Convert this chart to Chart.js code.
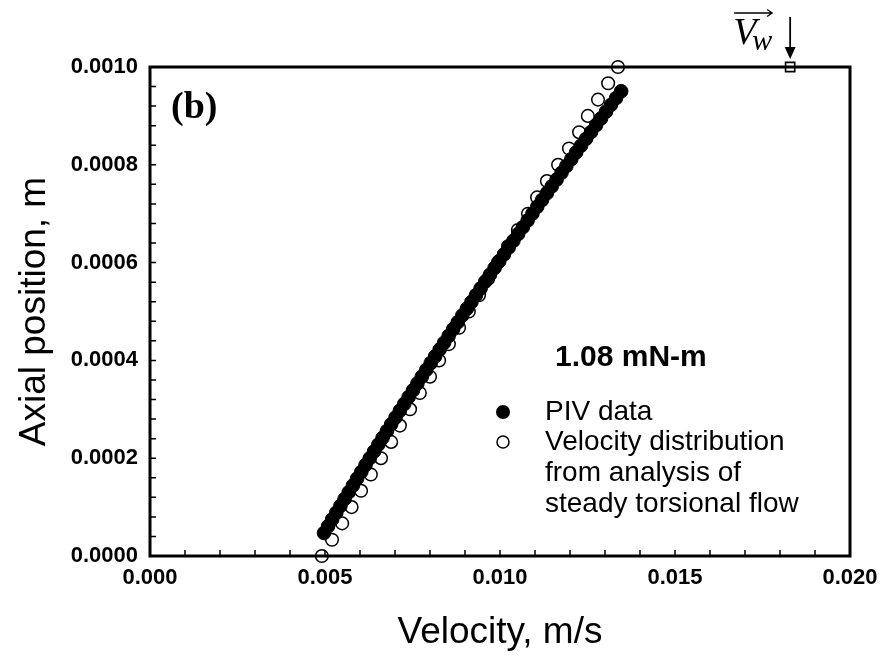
<!DOCTYPE html>
<html>
<head>
<meta charset="utf-8">
<script src="https://cdn.jsdelivr.net/npm/chart.js@4.4.1/dist/chart.umd.min.js"></script>
<style>
  html, body { margin: 0; padding: 0; background: #fff; }
  #wrap { width: 883px; height: 659px; }
</style>
</head>
<body>
<div id="wrap"><canvas id="c" width="883" height="659"></canvas></div>
<script>
// ---- Data ----
const pivPosition = [
  0.0000470, 0.0000609, 0.0000748, 0.0000887, 0.0001026, 0.0001165, 0.0001304, 0.0001443,
  0.0001582, 0.0001721, 0.0001860, 0.0001999, 0.0002138, 0.0002277, 0.0002416, 0.0002555,
  0.0002694, 0.0002833, 0.0002972, 0.0003111, 0.0003250, 0.0003389, 0.0003528, 0.0003667,
  0.0003806, 0.0003945, 0.0004084, 0.0004223, 0.0004362, 0.0004501, 0.0004640, 0.0004779,
  0.0004918, 0.0005057, 0.0005196, 0.0005335, 0.0005474, 0.0005613, 0.0005752, 0.0005891,
  0.0006030, 0.0006169, 0.0006308, 0.0006447, 0.0006586, 0.0006725, 0.0006864, 0.0007003,
  0.0007142, 0.0007281, 0.0007420, 0.0007559, 0.0007698, 0.0007837, 0.0007976, 0.0008115,
  0.0008254, 0.0008393, 0.0008532, 0.0008671, 0.0008810, 0.0008949, 0.0009088, 0.0009227,
  0.0009366, 0.0009505
];
const pivVelocity = [
  0.004971, 0.005088, 0.005205, 0.005323, 0.005441, 0.005559, 0.005678, 0.005798,
  0.005917, 0.006038, 0.006158, 0.006279, 0.006401, 0.006523, 0.006645, 0.006768,
  0.006891, 0.007015, 0.007139, 0.007264, 0.007389, 0.007514, 0.007640, 0.007766,
  0.007893, 0.008020, 0.008148, 0.008276, 0.008404, 0.008533, 0.008662, 0.008792,
  0.008922, 0.009053, 0.009184, 0.009315, 0.009447, 0.009580, 0.009713, 0.009846,
  0.009979, 0.010114, 0.010248, 0.010383, 0.010518, 0.010654, 0.010791, 0.010927,
  0.011064, 0.011202, 0.011340, 0.011478, 0.011617, 0.011757, 0.011896, 0.012036,
  0.012177, 0.012318, 0.012460, 0.012602, 0.012744, 0.012887, 0.013030, 0.013173,
  0.013318, 0.013462
];
const modelPosition = [
  0.0000000, 0.0000333, 0.0000667, 0.0001000, 0.0001333, 0.0001667, 0.0002000, 0.0002333,
  0.0002667, 0.0003000, 0.0003333, 0.0003667, 0.0004000, 0.0004333, 0.0004667, 0.0005000,
  0.0005333, 0.0005667, 0.0006000, 0.0006333, 0.0006667, 0.0007000, 0.0007333, 0.0007667,
  0.0008000, 0.0008333, 0.0008667, 0.0009000, 0.0009333, 0.0009667, 0.0010000
];
const modelVelocity = [
  0.00491, 0.00520, 0.00549, 0.00576, 0.00603, 0.00631, 0.00660, 0.00689,
  0.00714, 0.00743, 0.00771, 0.00800, 0.00826, 0.00854, 0.00883, 0.00911,
  0.00940, 0.00966, 0.00994, 0.01023, 0.01051, 0.01080, 0.01106, 0.01134,
  0.01166, 0.01197, 0.01226, 0.01251, 0.01280, 0.01309, 0.01337
];
const wallVelocity = [0.01829];
const wallPosition = [0.0010];

const seriesLabels = [
  ["PIV data"],
  ["Velocity distribution", "from analysis of", "steady torsional flow"]
];
const panelLabel = "(b)";
const torqueLabel = "1.08 mN-m";
const xTitle = "Velocity, m/s";
const yTitle = "Axial position, m";

const xMin = 0, xMax = 0.020, xMajor = 0.005, xMinor = 0.001;
const yMin = 0, yMax = 0.0010, yMajor = 0.0002, yMinor = 0.00004;

const SANS = "'Liberation Sans', Arial, sans-serif";

function pts(xs, ys) { return xs.map((v, i) => ({ x: v, y: ys[i] })); }

const decor = {
  id: 'decor',
  afterDatasetsDraw(chart) {
    const { ctx, chartArea: a, scales: { x, y } } = chart;
    ctx.save();
    ctx.strokeStyle = '#000';
    ctx.fillStyle = '#000';

    // inward ticks (left and bottom)
    ctx.lineWidth = 1.5;
    ctx.beginPath();
    const nY = Math.round((yMax - yMin) / yMinor);
    for (let i = 0; i <= nY; i++) {
      const py = y.getPixelForValue(yMin + i * yMinor);
      ctx.moveTo(a.left, py); ctx.lineTo(a.left + 6, py);
    }
    const nX = Math.round((xMax - xMin) / xMinor);
    for (let i = 0; i <= nX; i++) {
      const px = x.getPixelForValue(xMin + i * xMinor);
      ctx.moveTo(px, a.bottom); ctx.lineTo(px, a.bottom - 6);
    }
    ctx.stroke();

    // box
    ctx.lineWidth = 3;
    ctx.strokeRect(a.left, a.top, a.right - a.left, a.bottom - a.top);

    // wall velocity arrow
    const wx = x.getPixelForValue(wallVelocity[0]);
    const wy = y.getPixelForValue(wallPosition[0]);
    ctx.lineWidth = 1.8;
    ctx.beginPath();
    ctx.moveTo(wx, wy - 50); ctx.lineTo(wx, wy - 19);
    ctx.stroke();
    ctx.beginPath();
    ctx.moveTo(wx - 5.5, wy - 20); ctx.lineTo(wx + 5.5, wy - 20); ctx.lineTo(wx, wy - 8);
    ctx.closePath(); ctx.fill();

    // V_w with vector arrow
    ctx.textBaseline = 'alphabetic';
    ctx.textAlign = 'left';
    ctx.font = "italic 38px 'Liberation Serif', 'DejaVu Serif', serif";
    ctx.fillText('V', wx - 57, wy - 23);
    ctx.font = "italic 30px 'Liberation Serif', 'DejaVu Serif', serif";
    ctx.fillText('w', wx - 38, wy - 17);
    ctx.lineWidth = 1.3;
    ctx.beginPath();
    ctx.moveTo(wx - 56, wy - 54); ctx.lineTo(wx - 18, wy - 54);
    ctx.moveTo(wx - 23, wy - 57.5); ctx.lineTo(wx - 18, wy - 54); ctx.lineTo(wx - 23, wy - 50.5);
    ctx.stroke();

    // panel label
    ctx.font = "bold 38px 'Liberation Serif', 'DejaVu Serif', serif";
    ctx.textBaseline = 'middle';
    ctx.fillText(panelLabel, a.left + 21, a.top + 41);

    // torque label
    ctx.font = "bold 30px " + SANS;
    ctx.fillText(torqueLabel, 555, 358);

    // legend
    const ds = chart.data.datasets;
    const legX = 503, textX = 545;
    const rows = [412, 442];
    ctx.font = "28px " + SANS;
    ctx.beginPath();
    ctx.arc(legX, rows[0], 7, 0, Math.PI * 2);
    ctx.fillStyle = ds[0].backgroundColor; ctx.fill();
    ctx.fillStyle = '#000';
    ctx.fillText(seriesLabels[0][0], textX, rows[0]);
    ctx.beginPath();
    ctx.arc(legX, rows[1], 6, 0, Math.PI * 2);
    ctx.fillStyle = '#fff'; ctx.fill();
    ctx.lineWidth = 1.5; ctx.strokeStyle = ds[1].borderColor; ctx.stroke();
    ctx.fillStyle = '#000';
    seriesLabels[1].forEach((t, i) => ctx.fillText(t, textX, rows[1] + i * 31));

    ctx.restore();
  }
};

new Chart(document.getElementById('c'), {
  type: 'scatter',
  data: {
    datasets: [
      {
        label: seriesLabels[0].join(' '),
        data: pts(pivVelocity, pivPosition),
        backgroundColor: '#000', borderColor: '#000',
        pointRadius: 6.8, borderWidth: 1, order: 0, clip: false
      },
      {
        label: seriesLabels[1].join(' '),
        data: pts(modelVelocity, modelPosition),
        backgroundColor: '#fff', borderColor: '#000',
        pointRadius: 6.3, borderWidth: 1.5, order: 1, clip: false
      },
      {
        label: 'wall',
        data: pts(wallVelocity, wallPosition),
        pointStyle: 'rect', backgroundColor: '#fff', borderColor: '#000',
        pointRadius: 6.5, borderWidth: 1.6, order: 2, clip: false
      }
    ]
  },
  options: {
    responsive: false,
    animation: false,
    events: [],
    layout: { padding: { left: 0, top: 67, right: 33, bottom: 0 } },
    plugins: { legend: { display: false }, tooltip: { enabled: false } },
    scales: {
      x: {
        type: 'linear', min: xMin, max: xMax,
        afterFit(s) { s.height = 103; s.paddingLeft = 0; s.paddingRight = 0; },
        grid: { display: false, drawTicks: false },
        border: { display: false },
        ticks: {
          stepSize: xMajor, padding: 9, color: '#000',
          font: { family: SANS, size: 22, weight: 'bold' },
          callback: v => v.toFixed(3)
        },
        title: {
          display: true, text: xTitle, color: '#000',
          font: { family: SANS, size: 37 }, padding: { top: 0, bottom: 4 }
        }
      },
      y: {
        type: 'linear', min: yMin, max: yMax,
        afterFit(s) { s.width = 150; s.paddingTop = 0; s.paddingBottom = 0; },
        grid: { display: false, drawTicks: false },
        border: { display: false },
        ticks: {
          stepSize: yMajor, padding: 12, color: '#000',
          font: { family: SANS, size: 22, weight: 'bold' },
          callback: v => v.toFixed(4)
        },
        title: {
          display: true, text: yTitle, color: '#000',
          font: { family: SANS, size: 37 }, padding: { top: 13, bottom: 0 }
        }
      }
    }
  },
  plugins: [decor]
});
</script>
</body>
</html>
